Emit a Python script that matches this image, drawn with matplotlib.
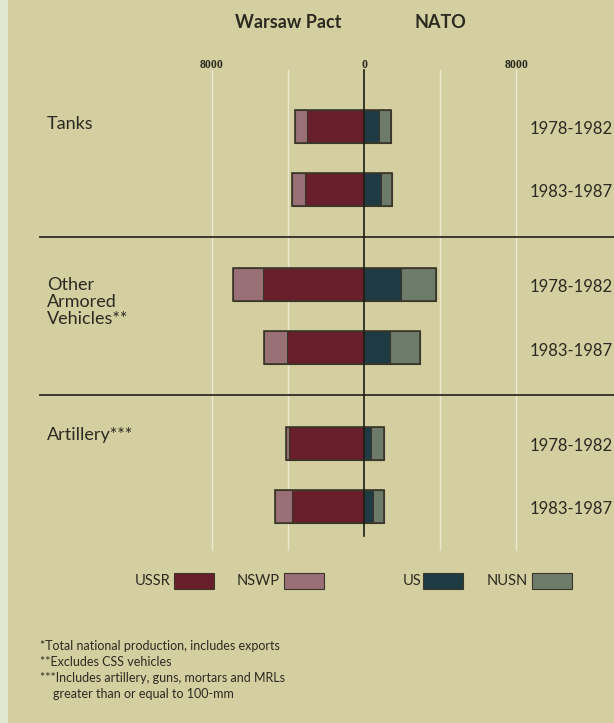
import numpy as np
import matplotlib
matplotlib.use('Agg')
import matplotlib.pyplot as plt
from matplotlib.patches import Rectangle

plt.rcParams['font.family'] = ['Lato', 'DejaVu Sans']

# average annual production (units)
categories = ['Tanks', 'Other\nArmored\nVehicles**', 'Artillery***']
periods = ['1978-1982', '1983-1987']
ussr = [3000, 3100, 5300, 4050, 3950, 3800]
nswp = [630, 680, 1580, 1210, 160, 900]
us = [790, 900, 1950, 1370, 370, 470]
nusn = [630, 580, 1840, 1580, 680, 580]
grid_ticks = [-8000, -4000, 4000, 8000]
tick_labels = ['8000', '0', '8000']
tick_vals = [-8000, 0, 8000]
footnotes = ['*Total national production, includes exports',
             '**Excludes CSS vehicles',
             '***Includes artillery, guns, mortars and MRLs',
             '    greater than or equal to 100-mm']

c_ussr, c_nswp, c_us, c_nusn = '#681f2b', '#9a7077', '#1e3b44', '#6d7b6b'
bg = '#d4cfa0'
txt = '#2b2a20'
edge = '#3a3628'

W, H = 614, 723
upx = 52.6          # units per pixel
x0 = 364            # pixel of zero

def px(p):
    return (p - x0) * upx

fig = plt.figure(figsize=(W / 100, H / 100), dpi=100, facecolor=bg)
ax = fig.add_axes([0, 0, 1, 1])
ax.set_facecolor(bg)
ax.set_xlim(px(0), px(W))
ax.set_ylim(H, 0)
ax.axis('off')

# pale strip at left edge
fig.patches.append(Rectangle((0, 0), 8 / W, 1, transform=fig.transFigure,
                             facecolor='#e2e7d4', edgecolor='none', zorder=0))

# bar rows
ys = []
for g in range(3):
    for i in range(2):
        ys.append(126 + 158.5 * g + 63 * i)
ys = np.array(ys)
bh = 33

# grid lines
for t in grid_ticks:
    ax.plot([t, t], [70, 550], color='#ecebd8', lw=1.0, alpha=0.9, zorder=1)

for g in range(2):
    ysep = (ys[2 * g + 1] + ys[2 * g + 2]) / 2
    ax.plot([px(40), px(W)], [ysep, ysep], color='#3b3a2c', lw=1.4, zorder=2)

ussr_a, nswp_a = np.array(ussr), np.array(nswp)
us_a, nusn_a = np.array(us), np.array(nusn)
kw = dict(height=bh, edgecolor=edge, linewidth=0.8, zorder=3)
ax.barh(ys, -ussr_a, color=c_ussr, **kw)
ax.barh(ys, -nswp_a, left=-ussr_a, color=c_nswp, **kw)
ax.barh(ys, us_a, color=c_us, **kw)
ax.barh(ys, nusn_a, left=us_a, color=c_nusn, **kw)
# outline of the whole bar
ax.barh(ys, ussr_a + nswp_a + us_a + nusn_a, left=-(ussr_a + nswp_a), color='none',
        height=bh, edgecolor=edge, linewidth=1.2, zorder=4)

ax.plot([0, 0], [70, 536], color='#1e1c16', lw=1.2, zorder=5)

# headers and ticks
ax.text(px(288), 22, 'Warsaw Pact', ha='center', va='center', fontsize=13,
        fontweight='bold', color=txt)
ax.text(px(440), 22, 'NATO', ha='center', va='center', fontsize=13,
        fontweight='bold', color=txt)
for v, s in zip(tick_vals, tick_labels):
    ax.text(v, 65, s, ha='center', va='center', fontsize=8.5, color=txt,
            family=['Liberation Serif'], fontweight='bold')

# category and period labels
cat_y = [124, 302, 435]
for cy, c in zip(cat_y, categories):
    ax.text(px(47), cy, c, ha='left', va='center', fontsize=13,
            color=txt, linespacing=1.1)
for k, y in enumerate(ys):
    ax.text(px(W - 1), y + 3, periods[k % 2], ha='right', va='center',
            fontsize=12, color=txt)

# legend
leg = [('USSR', c_ussr, 170, 174), ('NSWP', c_nswp, 280, 284),
       ('US', c_us, 421, 423), ('NUSN', c_nusn, 528, 532)]
for name, col, tx, bx in leg:
    ax.text(px(tx), 581, name, ha='right', va='center', fontsize=10.5, color=txt)
    ax.add_patch(Rectangle((px(bx), 573), 40 * upx, 16, facecolor=col,
                           edgecolor=edge, lw=0.8, zorder=3))

for k, f in enumerate(footnotes):
    ax.text(px(40), 646 + 16 * k, f, ha='left', va='center', fontsize=9, color=txt)

fig.savefig('out.png', dpi=100, facecolor=bg)
